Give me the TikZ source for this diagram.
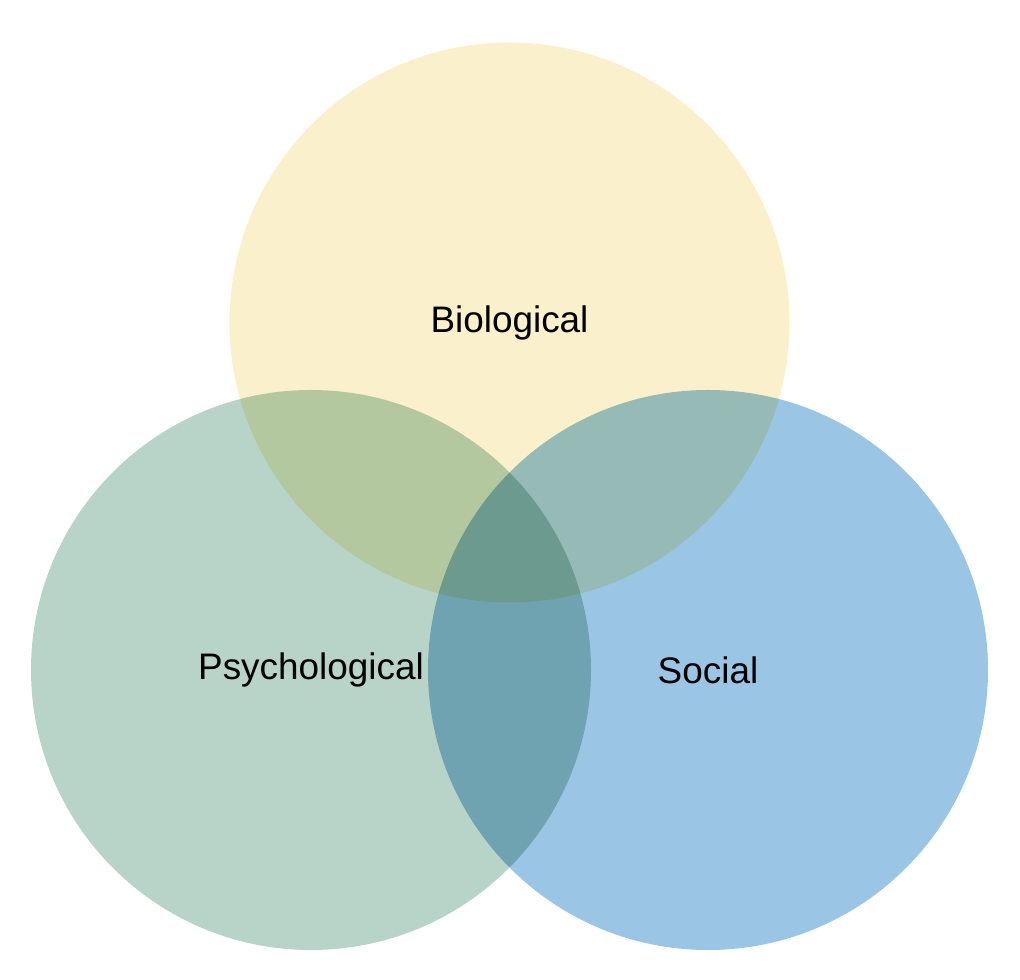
\documentclass[tikz,border=0pt]{standalone}
\usepackage{fontspec}
\setmainfont{Liberation Sans}
\usepackage{tikz}
\definecolor{bioyellow}{HTML}{FAF1CC}
\definecolor{psygreen}{HTML}{B8D4C8}
\definecolor{socblue}{HTML}{9AC5E4}
\tikzset{
  venn/.style={circle, minimum size=11.2cm, inner sep=0, font=\fontsize{21}{25}\selectfont}
}

\begin{document}
\begin{tikzpicture}
  \useasboundingbox (0, 0) rectangle (20.4, 19.6);

  \begin{scope}[blend group=multiply]
    \node[venn, fill=bioyellow]
      (bio) at (10.19, 13.15) {Biological};

    \node[venn, fill=psygreen]
      (psy) at (6.22, 6.2) {Psychological};

    \node[venn, fill=socblue]
      (soc) at (14.16, 6.2) {Social};
  \end{scope}
\end{tikzpicture}
\end{document}
